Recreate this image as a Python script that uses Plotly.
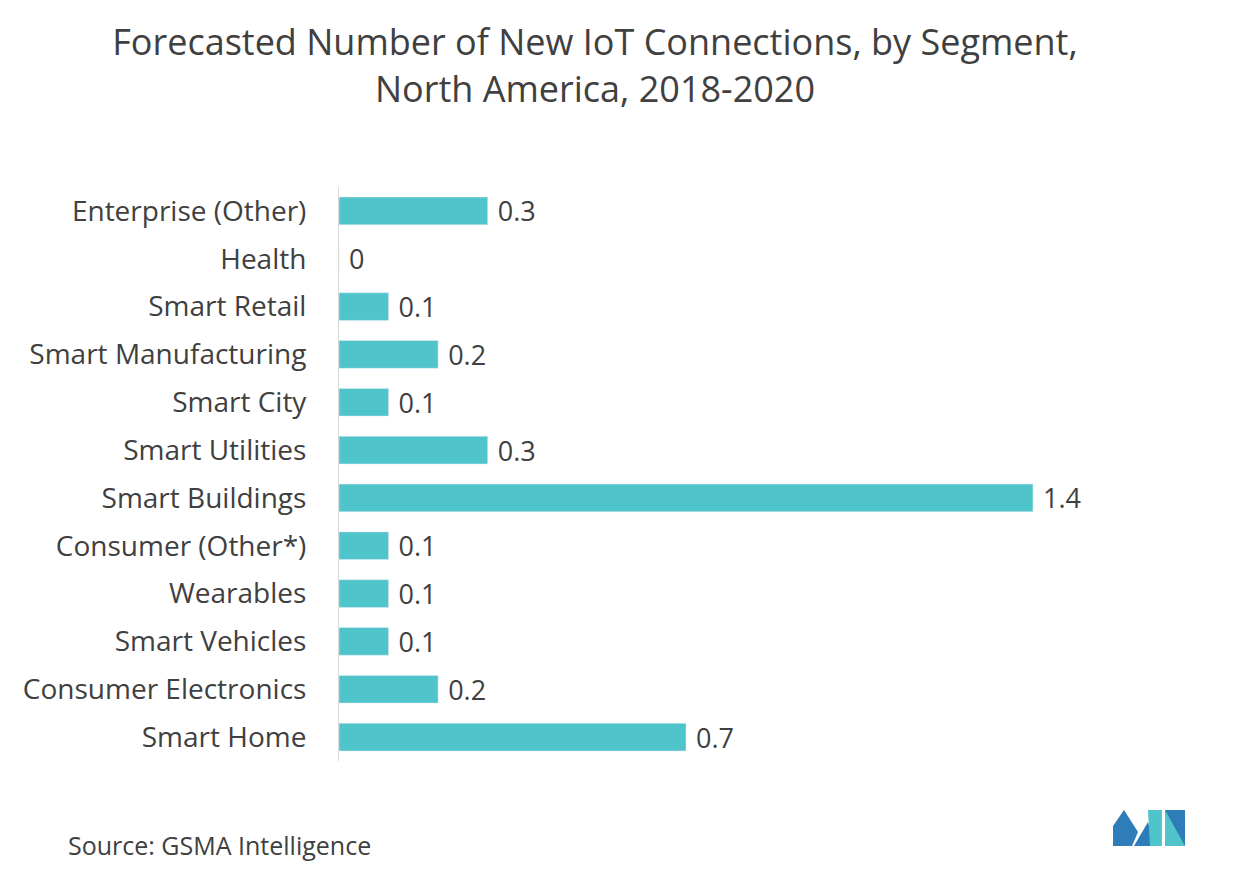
import plotly.graph_objects as go

categories = ["Enterprise (Other)", "Health", "Smart Retail", "Smart Manufacturing", "Smart City",
              "Smart Utilities", "Smart Buildings", "Consumer (Other*)", "Wearables", "Smart Vehicles",
              "Consumer Electronics", "Smart Home"]
values = [0.3, 0, 0.1, 0.2, 0.1, 0.3, 1.4, 0.1, 0.1, 0.1, 0.2, 0.7]

O = 8  # page offset
L, T, B = 339 - O, 187 - O, 761 - O
PW = 874
SCALE = 495.7

fig = go.Figure(go.Bar(
    y=categories, x=values, orientation="h", marker_color="#4FC4CA", width=0.58,
    text=[" " + str(v) for v in values], textposition="outside", cliponaxis=False,
    constraintext="none", textfont=dict(size=27, color="#404040"),
))
W, H = 1237, 864
fig.update_layout(
    width=W, height=H, plot_bgcolor="white", paper_bgcolor="white",
    margin=dict(l=L, r=W - L - PW, t=T, b=H - B, autoexpand=False),
    font=dict(family="Open Sans, Noto Sans, sans-serif", color="#404040"),
    title=dict(text="Forecasted Number of New IoT Connections, by Segment,<br>North America, 2018-2020",
               x=(595 - O) / W, xanchor="center", y=1 - 47 / H, yanchor="top",
               font=dict(size=36, color="#404040")),
    xaxis=dict(range=[0, PW / SCALE], visible=False, automargin=False),
    yaxis=dict(autorange="reversed", showline=True, linecolor="#d9d9d9", linewidth=1, automargin=False,
               ticks="", tickfont=dict(size=28, color="#404040"), ticklabelstandoff=26),
    showlegend=False,
)
PH = B - T
fig.add_annotation(text="Source: GSMA Intelligence", xref="paper", yref="paper",
                   x=(66 - O - L) / PW, y=-(845 - O - B) / PH, xanchor="left", yanchor="middle",
                   showarrow=False, font=dict(size=25, color="#404040"))
shapes = [
    ("M 1113 846 L 1113 826 L 1124 810 L 1138 832 L 1132 846 Z", "#2E7DB8"),
    ("M 1134 846 L 1148 822 L 1155 846 Z", "#2E7DB8"),
    ("M 1148 810 L 1162 810 L 1162 846 L 1150 846 Z", "#4FC4CA"),
    ("M 1165 846 L 1165 810 L 1185 810 L 1185 846 Z", "#2E7DB8"),
    ("M 1165 810 L 1185 846 L 1165 846 Z", "#4FC4CA"),
]
for path, col in shapes:
    toks = path.split()
    out = []
    i = 0
    while i < len(toks):
        t = toks[i]
        if t in ("M", "L"):
            xv = (float(toks[i+1]) - O - L) / PW
            yv = (B - (float(toks[i+2]) - O)) / PH
            out += [t, f"{xv:.4f}", f"{yv:.4f}"]
            i += 3
        else:
            out.append(t); i += 1
    fig.add_shape(type="path", path=" ".join(out), xref="paper", yref="paper",
                  fillcolor=col, line_width=0)
fig.write_html("out.html")
